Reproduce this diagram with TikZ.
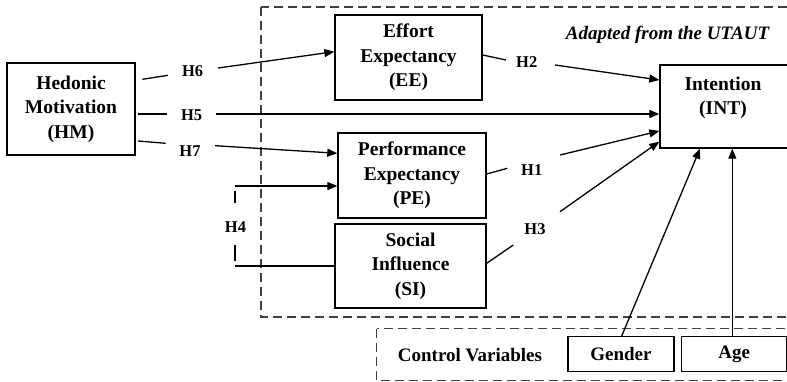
\documentclass[tikz,border=0pt]{standalone}
\usepackage{fontspec}
\setmainfont{Liberation Serif}
\usetikzlibrary{arrows.meta,calc}
\begin{document}
\begin{tikzpicture}[x=1pt,y=-1pt,
  box/.style={draw, line width=1.4pt, inner sep=0pt, align=center,
    font=\fontsize{19.5}{24.5}\selectfont\bfseries},
  txt/.style={inner sep=0pt, align=center,
    font=\fontsize{19.5}{24.5}\selectfont\bfseries},
  small/.style={inner sep=0pt, font=\fontsize{19}{23}\selectfont\bfseries},
  hyp/.style={inner sep=0pt, font=\fontsize{16.5}{20}\selectfont\bfseries},
  ln/.style={line width=1.3pt},
  arr/.style={ln, -{Triangle[length=10pt,width=8pt]}},
  dbox/.style={draw=black!75, line width=1.3pt, dash pattern=on 9pt off 5pt}]
\useasboundingbox (0,0) rectangle (787,382);

% dashed frames: UTAUT block and control variables
\draw[dbox] (261,7) rectangle (795,317);
\draw[dbox] (376.7,328.5) rectangle (795,380.5);
\node[font=\fontsize{19}{23}\selectfont\bfseries\itshape, inner sep=0pt] (utaut) at (667.5,35) {Adapted from the UTAUT};

% constructs
\node[box, minimum width=128pt, minimum height=92pt] (HM) at (71,109) {Hedonic\\Motivation\\(HM)};
\node[box, minimum width=147pt, minimum height=85pt] (EE) at (408.5,57.5) {Effort\\Expectancy\\(EE)};
\node[box, minimum width=148pt, minimum height=85pt] (PE) at (412,175.5) {Performance\\Expectancy\\(PE)};
\node[box, minimum width=151pt, minimum height=84pt] (SI) at (410.5,266) {Social\\Influence\\(SI)};
\node[box, minimum width=128pt, minimum height=83pt] (INT) at (724,106.5) {};
\node[txt] (INTt) at (723,98) {Intention\\(INT)};

% control variables
\node[small] (cv) at (470,355) {Control Variables};
\node[box, font=\fontsize{19}{23}\selectfont\bfseries, minimum width=106.3pt, minimum height=35pt] (Gender) at (621,354.2) {Gender};
\node[box, font=\fontsize{19}{23}\selectfont\bfseries, minimum width=104.8pt, minimum height=35pt] (Age) at (734.1,354.2) {Age};

% hypothesis labels
\node[hyp] (l6) at (192.7,70.7) {H6};
\node[hyp] (l5) at (191.7,115) {H5};
\node[hyp] (l7) at (190,150.7) {H7};
\node[hyp] (l2) at (526.7,61.7) {H2};
\node[hyp] (l1) at (531.7,170) {H1};
\node[hyp] (l3) at (535,229.3) {H3};
\node[hyp] (l4) at (235.5,226.7) {H4};

% gap ends around the labels
\coordinate (h6b) at (168,75.3);   \coordinate (h6c) at (218,68);
\coordinate (h5b) at (166.7,114);  \coordinate (h5c) at (216,114);
\coordinate (h7b) at (165.7,143.3); \coordinate (h7c) at (215,145.7);
\coordinate (h2b) at (506,60);     \coordinate (h2c) at (555,65);
\coordinate (h1b) at (507.3,168.3); \coordinate (h1c) at (560,155);
\coordinate (h3b) at (513.3,245);  \coordinate (h3c) at (560,211.7);
\coordinate (h4top) at (235,186);  \coordinate (h4bot) at (235,266);

% H6
\draw[ln] ($(HM.east)+(6.7,-29.7)$) -- (h6b);
\draw[arr] (h6c) -- ($(EE.west)+(0,-5.8)$);
% H5
\draw[ln] ($(HM.east)+(2.3,5)$) -- (h5b);
\draw[arr] (h5c) -- (h5c -| INT.west);
% H7
\draw[ln] ($(HM.east)+(2.3,32)$) -- (h7b);
\draw[arr] (h7c) -- ($(PE.west)+(0,-22.2)$);
% H2
\draw[ln] ($(EE.east)+(0,-2.5)$) -- (h2b);
\draw[arr] (h2c) -- ($(INT.west)+(0,-26.5)$);
% H1
\draw[ln] ($(PE.east)+(0,-1.5)$) -- (h1b);
\draw[arr] (h1c) -- ($(INT.west)+(0,24.5)$);
% H3
\draw[ln] ($(SI.east)+(0,-2.7)$) -- (h3b);
\draw[arr] (h3c) -- ($(INT.west)+(0,35.2)$);
% H4: SI bracket to PE
\draw[arr] (h4top) -- (h4top -| PE.west);
\draw[ln] ($(h4top)+(0,5)$) -- ($(h4top)+(0,17.3)$);
\draw[ln] ($(h4bot)+(0,-21)$) -- ($(h4bot)+(0,-5.5)$);
\draw[ln] (h4bot) -- (h4bot -| SI.west);

% control variable links
\draw[arr] ($(Gender.north)+(0.7,0)$) -- ($(INT.south)+(-24,0)$);
\coordinate (agetop) at ($(Age.north)+(-1.8,0)$);
\draw[arr] (agetop) -- (agetop |- INT.south);
\end{tikzpicture}
\end{document}
